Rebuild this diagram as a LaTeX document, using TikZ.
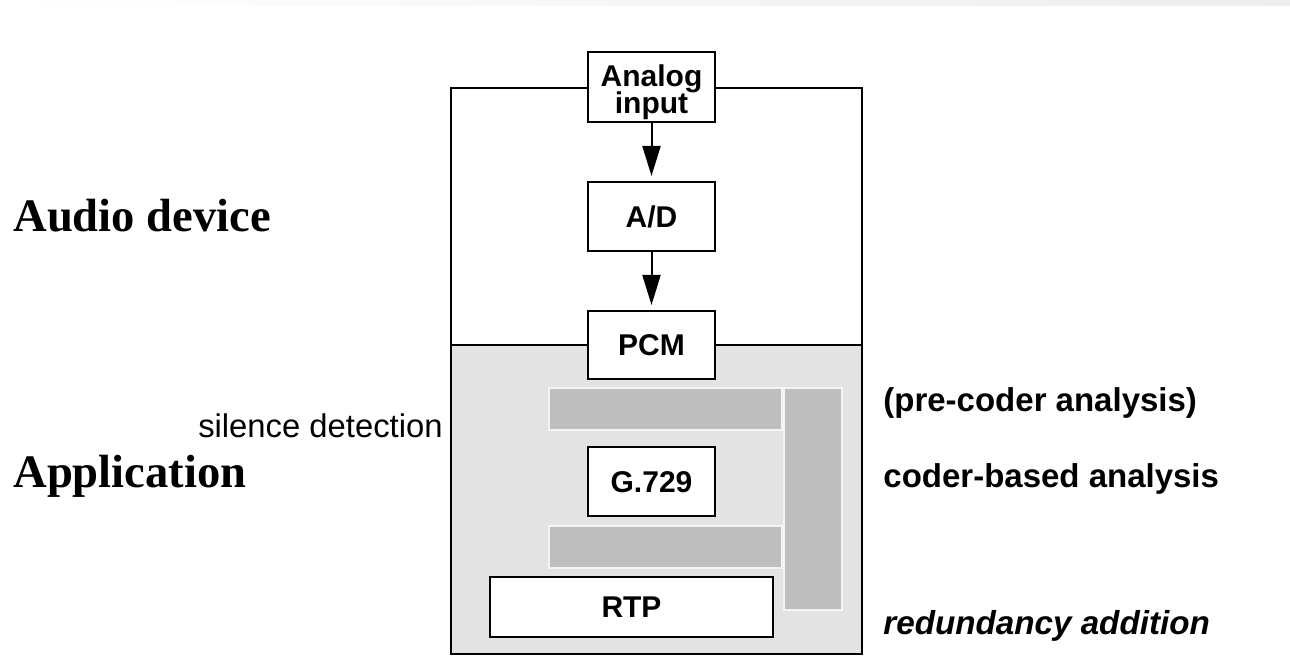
\documentclass[tikz,border=0pt]{standalone}
\usepackage{fontspec}
\setmainfont{Liberation Sans}
\newfontfamily\serifbold{Liberation Serif}
\usetikzlibrary{arrows.meta}
\definecolor{appgray}{RGB}{227,227,227}
\definecolor{bargray}{RGB}{190,190,190}
\definecolor{barrim}{RGB}{244,244,244}

\begin{document}
\begin{tikzpicture}[x=0.5pt,y=-0.5pt,
    blk/.style={draw,line width=1pt,fill=white,inner sep=0pt,align=center,
      font=\fontsize{15}{13}\selectfont\bfseries},
    lbl/.style={inner sep=0pt,anchor=base west,font=\fontsize{16.5}{19}\selectfont\bfseries},
    ttl/.style={inner sep=0pt,anchor=base west,font=\fontsize{23.3}{27}\serifbold\bfseries},
    bar/.style={fill=bargray,draw=barrim,line width=0.6pt},
    flow/.style={line width=1pt,-{Triangle[length=15pt,width=9pt]},shorten >=2.5pt}]
        \useasboundingbox (0,0) rectangle (1290,672);
        \shade[left color=white,right color=gray!14] (0,0) rectangle (1290,6);
        \fill[appgray] (451,345) rectangle (862,654);
        \draw[line width=1pt] (451,88) rectangle (862,654) (451,345) -- (862,345);
        \draw[bar] (549,388) rectangle (782,430);
        \draw[bar] (549,526) rectangle (782,568);
        \draw[bar] (784,388) rectangle (842,610);
        \node[blk,minimum width=63.5pt,minimum height=35pt] (ana) at (651.5,87) {\rule{0pt}{16pt}Analog\\[-1.5pt]input};
        \node[blk,minimum width=63.5pt,minimum height=34.5pt] (ad) at (651.5,216.5) {A/D};
        \node[blk,minimum width=63.5pt,minimum height=34pt] (pcm) at (651.5,345) {PCM};
        \node[blk,minimum width=63.5pt,minimum height=34.5pt] (g729) at (651.5,482) {G.729};
        \node[blk,minimum width=141.5pt,minimum height=30pt] (rtp) at (631.5,607) {RTP};
        \draw[flow] (ana) -- (ad);
        \draw[flow] (ad) -- (pcm);
        \node[ttl] (dev) at (13,232) {Audio device};
        \node[ttl] (app) at (13,488) {Application};
        \node[inner sep=0pt,anchor=base east,font=\fontsize{16.4}{19}\selectfont] (sil) at (443,438) {silence detection};
        \node[lbl] (pre) at (883,412) {(pre-coder analysis)};
        \node[lbl] (cba) at (883,488) {coder-based analysis};
        \node[lbl,font=\fontsize{16.6}{19}\selectfont\bfseries\itshape] (red) at (883,635) {redundancy addition};
      \end{tikzpicture}
\end{document}
